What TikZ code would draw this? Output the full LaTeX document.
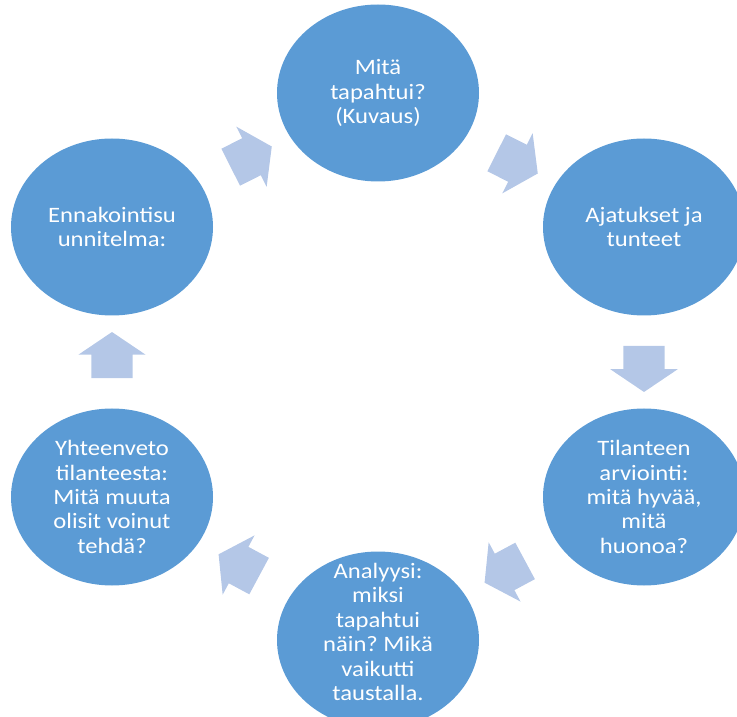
\documentclass[tikz,border=0pt]{standalone}
\usepackage{fontspec}
\setmainfont{Carlito}[FakeStretch=1.12]
\usetikzlibrary{shapes.geometric,shapes.arrows}
\definecolor{ringblue}{HTML}{5B9BD5}
\definecolor{arrowblue}{HTML}{B4C7E7}
\frenchspacing
\begin{document}
\begin{tikzpicture}[x=1pt,y=1pt,
  stagetext/.style={align=center,text=white,font=\fontsize{22}{24.4}\selectfont},
  stage/.style={ellipse,fill=ringblue,minimum width=202pt,minimum height=177pt,inner sep=0pt,stagetext},
  flow/.style={single arrow,fill=arrowblue,minimum height=46pt,inner xsep=0pt,inner ysep=20.5pt,single arrow head extend=13pt,single arrow tip angle=112,sloped,allow upside down}]
\useasboundingbox (0,0) rectangle (737,716);
\node[stage] (s1) at (378,623) {Mitä\\tapahtui?\\(Kuvaus)};
\node[stage] (s2) at (644,489) {Ajatukset ja\\tunteet};
\node[stage] (s3) at (644,219) {Tilanteen\\arviointi:\\mitä hyvää,\\mitä\\huonoa?};
\node[stage,label={[stagetext,yshift=8pt]center:Analyysi:\\miksi\\tapahtui\\näin? Mikä\\vaikutti\\taustalla.}] (s4) at (378,76) {};
\node[stage] (s5) at (112,219) {Yhteenveto\\tilanteesta:\\Mitä muuta\\olisit voinut\\tehdä?};
\node[stage] (s6) at (112,489) {Ennakointisu\\unnitelma:};
\path (s1) -- node[flow] {} (s2); \path (s2) -- node[flow] {} (s3);
\path (s3) -- node[flow] {} (s4); \path (s4) -- node[flow] {} (s5);
\path (s5) -- node[flow] {} (s6); \path (s6) -- node[flow] {} (s1);
\end{tikzpicture}
\end{document}
